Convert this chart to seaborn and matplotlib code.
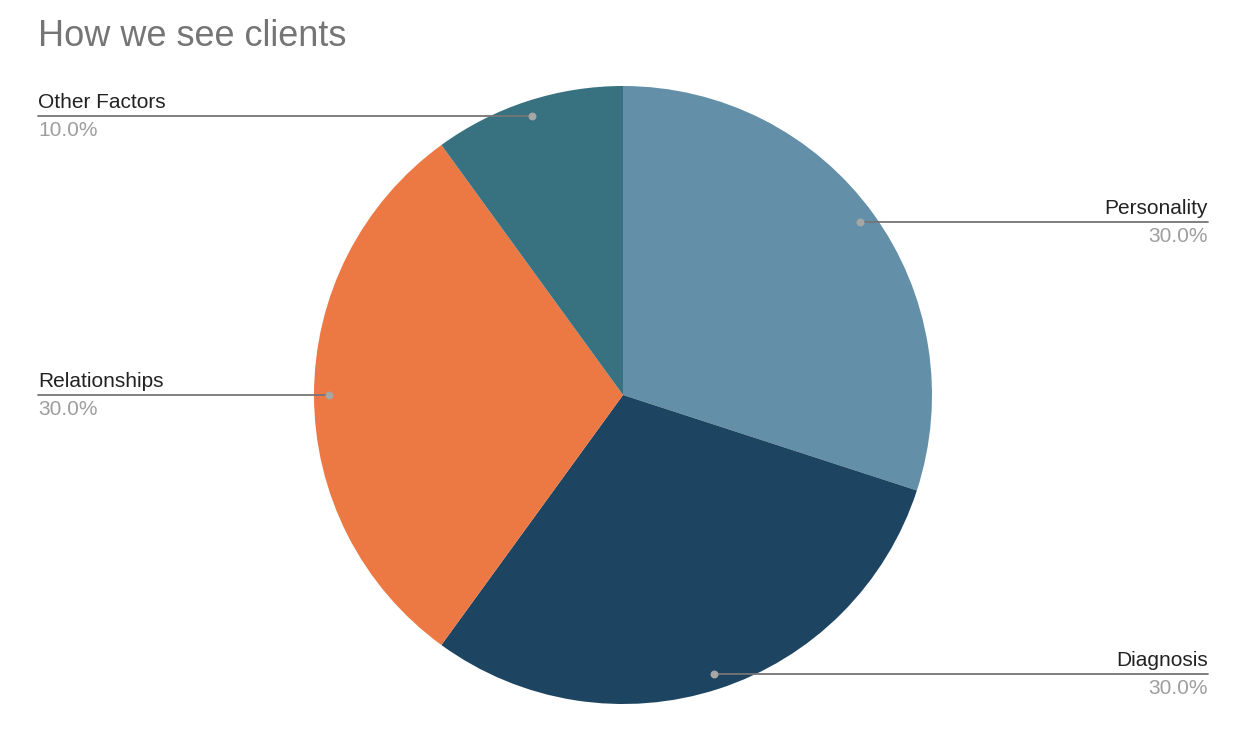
import numpy as np
import matplotlib
matplotlib.use("Agg")
import matplotlib.pyplot as plt
import seaborn as sns

# data
categories = ["Personality", "Diagnosis", "Relationships", "Other Factors"]
shares = [30.0, 30.0, 30.0, 10.0]
colors = ["#6390a8", "#1d4460", "#ec7844", "#387280"]

# label anchors (pixel x of text edge, side)
label_x = {"Personality": 1208, "Diagnosis": 1208, "Relationships": 38, "Other Factors": 38}

sns.set_theme(style="white")
plt.rcParams["font.family"] = ["Liberation Sans", "DejaVu Sans"]

W, H = 1254, 738
fig = plt.figure(figsize=(W / 100, H / 100), dpi=100)
ax = fig.add_axes([0, 0, 1, 1])
ax.set_xlim(0, W)
ax.set_ylim(0, H)
ax.set_axis_off()

cx, cy, r = 623, H - 395, 309
wedges, _ = ax.pie(shares, colors=colors, startangle=90, counterclock=False,
                   center=(cx, cy), radius=r, frame=True,
                   wedgeprops=dict(linewidth=0))
ax.set_xlim(0, W)
ax.set_ylim(0, H)
ax.set_axis_off()
ax.set_aspect("equal")

for w, name, val in zip(wedges, categories, shares):
    mid = np.deg2rad((w.theta1 + w.theta2) / 2)
    dx, dy = cx + 0.95 * r * np.cos(mid), cy + 0.95 * r * np.sin(mid)
    lx = label_x[name]
    ax.plot([dx, lx], [dy, dy], color="#757575", lw=1.3, zorder=3)
    ax.scatter([dx], [dy], s=22, color="#a6a6a6", zorder=4)
    ha = "right" if lx > cx else "left"
    ax.text(lx, dy + 4, name, ha=ha, va="bottom", fontsize=15, color="#222222")
    ax.text(lx, dy - 5, f"{val:.1f}%", ha=ha, va="top", fontsize=15, color="#9e9e9e")

ax.text(38, H - 37, "How we see clients", ha="left", va="center",
        fontsize=26, color="#757575")

fig.savefig("out.png", dpi=100)
